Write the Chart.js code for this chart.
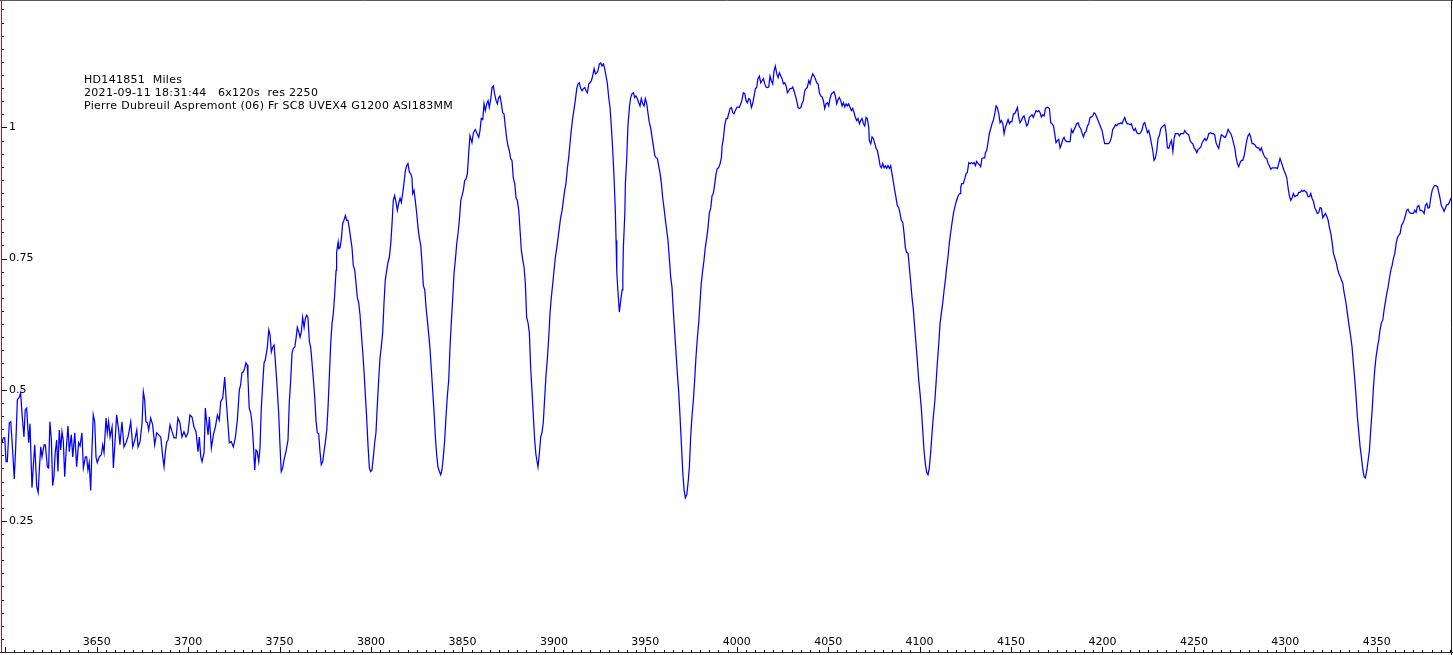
<!DOCTYPE html>
<html>
<head>
<meta charset="utf-8">
<title>HD141851 Miles</title>
<script src="https://cdn.jsdelivr.net/npm/chart.js@4.4.1/dist/chart.umd.min.js"></script>
<style>
  html, body { margin: 0; padding: 0; background: #fff; overflow: hidden; }
  #wrap { position: relative; width: 1453px; height: 655px; }
  #wrap canvas { display: block; }
</style>
</head>
<body>
<div id="wrap"><canvas id="spectrum"></canvas></div>
<script>
// ------------------------------------------------------
// spectrum data (wavelength in Angstrom, relative flux)
// ------------------------------------------------------
const wavelength = [
  3598.2, 3598.9, 3599.7, 3600.4, 3601.1, 3602.2, 3603.0, 3604.0, 3604.9, 3605.7,
  3606.6, 3607.7, 3608.4, 3609.1, 3610.2, 3610.9, 3611.7, 3612.8, 3613.5, 3614.6,
  3615.3, 3616.1, 3617.2, 3618.0, 3618.6, 3619.4, 3620.1, 3621.2, 3621.9, 3623.0,
  3623.7, 3624.4, 3625.2, 3625.9, 3626.6, 3627.3, 3628.1, 3628.8, 3629.5, 3630.3,
  3631.0, 3631.7, 3632.5, 3633.2, 3634.3, 3635.0, 3636.1, 3636.9, 3638.0, 3639.0,
  3640.1, 3640.9, 3641.9, 3642.7, 3643.8, 3644.5, 3645.2, 3645.9, 3646.7, 3647.4,
  3648.1, 3648.9, 3649.6, 3650.3, 3651.4, 3652.5, 3653.3, 3654.0, 3655.1, 3655.8,
  3656.5, 3657.3, 3658.4, 3659.1, 3659.8, 3660.9, 3662.0, 3662.7, 3663.8, 3664.9,
  3666.0, 3667.1, 3667.8, 3668.6, 3669.7, 3670.8, 3671.9, 3672.6, 3673.7, 3674.8,
  3675.5, 3676.2, 3676.9, 3677.7, 3678.4, 3679.5, 3680.6, 3681.7, 3682.8, 3683.9,
  3685.0, 3686.1, 3686.8, 3687.5, 3688.3, 3689.0, 3690.1, 3691.2, 3692.3, 3693.4,
  3694.4, 3695.5, 3696.6, 3697.7, 3698.8, 3699.9, 3701.0, 3702.1, 3703.2, 3704.3,
  3705.4, 3706.1, 3706.9, 3707.6, 3708.7, 3709.4, 3710.1, 3710.9, 3711.6, 3712.7,
  3713.8, 3714.9, 3716.0, 3717.0, 3717.8, 3718.9, 3720.0, 3720.7, 3721.4, 3722.5,
  3723.6, 3724.7, 3725.8, 3726.9, 3728.0, 3728.7, 3729.4, 3730.2, 3730.9, 3731.6,
  3732.3, 3732.7, 3733.4, 3734.2, 3734.9, 3735.6, 3736.4, 3737.1, 3737.8, 3738.6,
  3739.3, 3740.0, 3740.8, 3741.5, 3742.2, 3743.3, 3744.1, 3744.8, 3745.5, 3746.2,
  3747.0, 3747.7, 3748.4, 3749.5, 3750.2, 3750.9, 3751.7, 3752.4, 3753.5, 3754.6,
  3755.3, 3756.1, 3756.8, 3757.5, 3758.3, 3759.0, 3759.7, 3760.5, 3761.2, 3761.9,
  3762.6, 3763.4, 3764.1, 3764.8, 3765.5, 3766.3, 3767.0, 3767.7, 3768.5, 3769.2,
  3769.9, 3770.6, 3771.4, 3772.1, 3772.8, 3773.6, 3774.3, 3775.0, 3775.8, 3776.5,
  3777.2, 3778.0, 3778.7, 3779.4, 3780.1, 3780.9, 3781.2, 3782.0, 3782.3, 3783.1,
  3783.8, 3784.5, 3785.2, 3786.0, 3786.7, 3787.4, 3788.1, 3788.9, 3789.6, 3790.3,
  3791.1, 3791.8, 3792.5, 3793.3, 3794.0, 3794.7, 3795.5, 3796.2, 3796.9, 3797.6,
  3798.4, 3799.1, 3799.8, 3800.5, 3801.3, 3802.0, 3802.7, 3803.4, 3804.2, 3804.9,
  3805.6, 3806.4, 3807.1, 3807.8, 3808.6, 3809.3, 3810.0, 3810.8, 3811.5, 3812.2,
  3812.9, 3813.7, 3814.4, 3815.1, 3815.9, 3816.6, 3817.3, 3818.0, 3818.8, 3819.5,
  3820.2, 3821.0, 3821.7, 3822.4, 3822.8, 3823.5, 3824.2, 3825.0, 3825.7, 3826.4,
  3827.2, 3827.9, 3828.6, 3829.4, 3830.1, 3830.8, 3831.6, 3832.3, 3833.0, 3833.7,
  3834.5, 3835.2, 3835.9, 3836.6, 3837.4, 3838.1, 3838.8, 3839.5, 3840.3, 3841.0,
  3841.7, 3842.5, 3843.2, 3843.9, 3844.7, 3845.4, 3846.1, 3846.9, 3847.6, 3848.3,
  3849.1, 3849.8, 3850.5, 3851.2, 3852.0, 3852.7, 3853.4, 3854.1, 3855.2, 3856.0,
  3857.0, 3857.8, 3858.9, 3859.6, 3860.3, 3861.1, 3861.8, 3862.5, 3863.3, 3864.0,
  3864.7, 3865.5, 3866.2, 3866.9, 3867.6, 3868.4, 3869.1, 3869.8, 3870.5, 3871.3,
  3872.0, 3872.7, 3873.5, 3874.2, 3874.9, 3875.6, 3876.4, 3877.1, 3877.8, 3878.6,
  3879.3, 3880.0, 3880.8, 3881.5, 3882.2, 3883.0, 3883.7, 3884.4, 3885.1, 3885.9,
  3886.6, 3887.3, 3888.1, 3888.8, 3889.5, 3890.2, 3891.3, 3892.0, 3892.8, 3893.5,
  3894.2, 3895.0, 3895.7, 3896.4, 3897.2, 3897.9, 3898.6, 3899.4, 3900.1, 3900.8,
  3901.6, 3902.3, 3903.0, 3903.7, 3904.5, 3905.2, 3905.9, 3906.6, 3907.4, 3908.1,
  3908.8, 3909.5, 3910.3, 3911.0, 3911.7, 3912.5, 3913.2, 3913.9, 3914.7, 3915.4,
  3916.1, 3916.9, 3917.6, 3918.3, 3919.1, 3919.8, 3920.5, 3921.2, 3922.0, 3922.7,
  3923.4, 3924.1, 3924.9, 3925.6, 3926.3, 3927.1, 3927.8, 3928.5, 3929.2, 3930.0,
  3930.7, 3931.4, 3932.2, 3932.9, 3933.6, 3934.0, 3934.4, 3935.1, 3935.8, 3936.6,
  3937.3, 3937.7, 3938.0, 3938.8, 3939.1, 3939.8, 3940.5, 3941.3, 3942.0, 3942.7,
  3943.5, 3944.2, 3944.9, 3945.6, 3946.4, 3947.1, 3947.8, 3948.6, 3949.3, 3950.0,
  3950.8, 3951.5, 3952.2, 3953.0, 3953.7, 3954.4, 3955.2, 3955.9, 3956.6, 3957.3,
  3958.1, 3958.8, 3959.5, 3960.2, 3961.0, 3961.7, 3962.4, 3963.1, 3963.9, 3964.6,
  3965.3, 3966.1, 3966.8, 3967.5, 3968.3, 3969.0, 3969.7, 3970.5, 3971.2, 3971.9,
  3972.7, 3973.4, 3974.1, 3974.8, 3975.5, 3976.3, 3977.0, 3977.7, 3978.5, 3979.2,
  3979.9, 3980.6, 3981.4, 3982.1, 3982.8, 3983.6, 3984.3, 3985.0, 3985.8, 3986.5,
  3987.2, 3988.0, 3988.7, 3989.4, 3990.1, 3990.9, 3991.6, 3992.0, 3992.7, 3993.4,
  3994.2, 3994.9, 3995.6, 3996.3, 3997.1, 3997.8, 3998.5, 3999.2, 4000.0, 4000.7,
  4001.4, 4002.2, 4002.9, 4003.6, 4004.4, 4005.1, 4005.8, 4006.6, 4007.3, 4008.0,
  4008.7, 4009.5, 4010.2, 4010.9, 4011.6, 4012.4, 4013.1, 4013.8, 4014.6, 4015.3,
  4016.0, 4016.7, 4017.5, 4018.2, 4018.9, 4019.7, 4020.4, 4021.1, 4021.9, 4022.6,
  4023.3, 4024.1, 4024.8, 4025.5, 4026.2, 4027.0, 4027.7, 4028.4, 4029.1, 4029.9,
  4030.6, 4031.3, 4032.1, 4032.8, 4033.5, 4034.2, 4035.0, 4035.7, 4036.4, 4037.2,
  4037.9, 4038.6, 4039.4, 4040.1, 4040.8, 4041.6, 4042.3, 4043.0, 4043.7, 4044.5,
  4045.2, 4045.9, 4046.7, 4047.4, 4048.1, 4048.8, 4049.6, 4050.3, 4051.0, 4051.8,
  4052.5, 4053.2, 4053.9, 4054.7, 4055.4, 4056.1, 4056.9, 4057.6, 4058.3, 4059.1,
  4059.8, 4060.5, 4061.2, 4062.0, 4062.7, 4063.4, 4064.2, 4064.9, 4065.6, 4066.3,
  4067.1, 4067.8, 4068.5, 4069.3, 4070.0, 4070.7, 4071.4, 4072.2, 4072.5, 4073.3,
  4074.0, 4074.7, 4075.5, 4076.2, 4076.9, 4077.7, 4078.4, 4079.1, 4079.8, 4080.6,
  4081.3, 4082.0, 4082.7, 4083.5, 4084.2, 4084.9, 4085.7, 4086.4, 4087.1, 4087.8,
  4088.6, 4089.3, 4090.0, 4090.8, 4091.5, 4092.2, 4092.9, 4093.7, 4094.4, 4095.2,
  4095.9, 4096.6, 4097.3, 4098.0, 4098.8, 4099.5, 4100.2, 4101.0, 4101.7, 4102.4,
  4103.2, 4103.9, 4104.6, 4105.3, 4106.1, 4106.8, 4107.5, 4108.3, 4109.0, 4109.7,
  4110.5, 4111.2, 4111.9, 4112.7, 4113.4, 4114.1, 4114.8, 4115.5, 4116.3, 4117.0,
  4117.7, 4118.5, 4119.2, 4119.9, 4120.7, 4121.4, 4122.1, 4122.5, 4123.0, 4123.9,
  4124.7, 4125.4, 4126.1, 4126.9, 4127.6, 4128.3, 4129.1, 4129.8, 4130.5, 4131.2,
  4132.0, 4132.7, 4133.4, 4134.1, 4134.9, 4135.6, 4136.0, 4136.7, 4137.4, 4138.1,
  4138.9, 4139.6, 4140.3, 4141.1, 4141.8, 4142.5, 4143.3, 4144.0, 4144.7, 4145.5,
  4146.2, 4146.9, 4147.6, 4148.4, 4149.1, 4149.8, 4150.5, 4151.3, 4152.0, 4152.8,
  4153.5, 4154.2, 4154.9, 4155.6, 4156.4, 4157.1, 4157.8, 4158.6, 4159.3, 4160.0,
  4160.8, 4161.5, 4162.2, 4163.0, 4163.7, 4164.4, 4165.2, 4165.9, 4166.6, 4167.3,
  4168.1, 4168.8, 4169.5, 4170.2, 4171.0, 4171.7, 4172.4, 4173.2, 4173.9, 4174.6,
  4175.4, 4176.1, 4176.8, 4177.5, 4178.3, 4179.0, 4179.7, 4180.5, 4181.6, 4182.3,
  4183.0, 4183.8, 4184.5, 4185.2, 4185.9, 4186.7, 4187.4, 4188.1, 4188.8, 4189.6,
  4190.3, 4191.0, 4191.8, 4192.5, 4193.2, 4194.0, 4194.7, 4195.4, 4196.1, 4196.9,
  4197.6, 4198.3, 4199.1, 4199.8, 4200.5, 4201.2, 4202.0, 4202.7, 4203.4, 4204.2,
  4204.9, 4205.6, 4206.4, 4207.1, 4207.8, 4208.5, 4209.3, 4210.0, 4210.7, 4211.4,
  4212.2, 4212.9, 4213.6, 4214.4, 4215.1, 4215.8, 4216.6, 4217.3, 4218.0, 4218.8,
  4219.5, 4220.2, 4220.9, 4221.7, 4222.4, 4223.1, 4223.8, 4224.6, 4225.3, 4226.0,
  4226.8, 4227.5, 4228.2, 4228.9, 4229.7, 4230.4, 4231.1, 4231.9, 4232.6, 4233.3,
  4234.1, 4234.8, 4235.5, 4236.3, 4237.0, 4237.7, 4238.5, 4239.2, 4239.9, 4240.6,
  4241.3, 4242.1, 4242.8, 4243.5, 4244.3, 4245.0, 4245.7, 4246.4, 4247.2, 4247.9,
  4248.6, 4249.4, 4250.1, 4250.8, 4251.6, 4252.3, 4253.0, 4253.8, 4254.5, 4255.2,
  4256.0, 4256.7, 4257.4, 4258.1, 4259.2, 4259.9, 4260.7, 4261.4, 4262.1, 4262.8,
  4263.6, 4264.3, 4265.0, 4265.8, 4266.5, 4267.2, 4268.0, 4268.7, 4269.4, 4270.2,
  4270.9, 4271.6, 4272.4, 4273.1, 4273.8, 4274.5, 4275.3, 4276.0, 4276.7, 4277.5,
  4278.2, 4278.9, 4279.6, 4280.4, 4281.1, 4281.8, 4282.5, 4283.3, 4284.0, 4284.7,
  4285.5, 4286.2, 4286.9, 4287.7, 4288.4, 4289.1, 4289.8, 4290.6, 4291.3, 4292.0,
  4292.8, 4293.5, 4294.2, 4294.9, 4295.7, 4296.4, 4297.1, 4297.9, 4298.6, 4299.3,
  4300.0, 4300.8, 4301.5, 4302.2, 4303.0, 4303.7, 4304.4, 4305.2, 4305.9, 4306.6,
  4307.3, 4308.1, 4308.8, 4309.5, 4310.3, 4311.0, 4311.7, 4312.4, 4313.2, 4313.9,
  4314.6, 4315.4, 4316.1, 4316.8, 4317.5, 4318.3, 4319.0, 4319.7, 4320.5, 4321.2,
  4321.9, 4322.7, 4323.4, 4324.1, 4324.9, 4325.6, 4326.3, 4327.0, 4327.8, 4328.5,
  4329.2, 4330.0, 4330.7, 4331.4, 4332.1, 4332.9, 4333.6, 4334.3, 4335.0, 4335.8,
  4336.5, 4337.2, 4338.0, 4338.7, 4339.4, 4340.2, 4340.9, 4341.6, 4342.4, 4343.1,
  4343.8, 4344.6, 4345.3, 4346.0, 4346.7, 4347.5, 4348.2, 4348.9, 4349.6, 4350.4,
  4351.1, 4351.8, 4352.5, 4353.3, 4354.0, 4354.7, 4355.5, 4356.2, 4356.9, 4357.7,
  4358.4, 4359.1, 4359.9, 4360.6, 4361.3, 4362.0, 4362.8, 4363.5, 4364.2, 4364.9,
  4365.7, 4366.4, 4367.1, 4367.8, 4368.6, 4369.3, 4370.0, 4370.8, 4371.5, 4372.2,
  4373.0, 4373.7, 4374.4, 4375.2, 4375.9, 4376.6, 4377.4, 4378.1, 4378.8, 4379.5,
  4380.3, 4381.0, 4381.7, 4382.4, 4383.2, 4383.9, 4384.6, 4385.3, 4386.1, 4386.8,
  4387.5, 4388.3, 4389.0, 4389.7, 4390.5
];

const flux = [
  .399, .408, .408, .363, .363, .437, .439, .385, .330, .391,
  .481, .486, .494, .456, .410, .462, .465, .399, .435, .313,
  .353, .395, .315, .304, .347, .391, .372, .395, .395, .353,
  .351, .439, .404, .317, .334, .380, .404, .344, .423, .385,
  .420, .404, .334, .380, .431, .382, .414, .372, .418, .353,
  .399, .393, .418, .351, .372, .372, .347, .361, .308, .385,
  .452, .439, .372, .361, .372, .376, .395, .380, .446, .418,
  .439, .410, .429, .351, .389, .452, .423, .395, .439, .391,
  .399, .410, .423, .439, .391, .404, .423, .391, .401, .437,
  .496, .481, .439, .437, .423, .446, .433, .395, .418, .414,
  .410, .372, .353, .380, .401, .404, .433, .420, .408, .408,
  .446, .437, .410, .420, .410, .418, .452, .448, .429, .420,
  .382, .410, .372, .363, .380, .465, .439, .414, .448, .389,
  .414, .429, .452, .442, .477, .484, .524, .486, .452, .399,
  .401, .391, .408, .442, .500, .509, .532, .534, .541, .551,
  .547, .522, .465, .456, .437, .401, .347, .385, .382, .363,
  .389, .465, .513, .551, .557, .581, .614, .604, .572, .581,
  .585, .553, .519, .456, .395, .344, .351, .366, .382, .404,
  .475, .519, .570, .579, .581, .598, .619, .610, .600, .610,
  .638, .619, .636, .642, .638, .591, .581, .553, .519, .486,
  .442, .418, .416, .382, .357, .363, .382, .399, .423, .467,
  .524, .591, .627, .646, .680, .728, .762, .781, .769, .771,
  .788, .817, .823, .832, .823, .823, .808, .788, .771, .737,
  .728, .703, .676, .665, .642, .608, .570, .534, .490, .448,
  .391, .351, .344, .347, .372, .399, .418, .467, .519, .560,
  .581, .610, .665, .709, .728, .743, .752, .779, .817, .861,
  .870, .857, .842, .855, .865, .857, .874, .893, .918, .927,
  .931, .914, .912, .904, .874, .880, .861, .836, .809, .790,
  .775, .741, .699, .690, .657, .633, .604, .576, .538, .500,
  .456, .410, .376, .353, .344, .338, .347, .370, .404, .448,
  .486, .519, .581, .627, .676, .722, .747, .779, .798, .823,
  .861, .870, .880, .899, .902, .912, .950, .984, .971, .990,
  .996, .990, .981, .994, 1.017, 1.015, 1.045, 1.032, 1.045, 1.051,
  1.038, 1.055, 1.076, 1.079, 1.064, 1.051, 1.045, 1.057, 1.060, 1.045,
  1.028, 1.026, 1.000, .979, .965, .956, .940, .937, .904, .893,
  .866, .861, .842, .804, .766, .747, .733, .703, .638, .627,
  .608, .543, .494, .448, .404, .376, .353, .376, .410, .418,
  .437, .486, .528, .557, .600, .646, .676, .703, .728, .752,
  .771, .790, .809, .828, .842, .861, .880, .893, .923, .942,
  .969, .994, 1.018, 1.034, 1.051, 1.074, 1.083, 1.085, 1.074, 1.070,
  1.074, 1.076, 1.070, 1.066, 1.083, 1.085, 1.089, 1.098, 1.112, 1.102,
  1.104, 1.108, 1.121, 1.123, 1.117, 1.121, 1.112, 1.098, 1.085, 1.057,
  1.038, 1.003, .956, .904, .842, .785, .724, .684, .648, .671,
  .690, .718, .771, .836, .893, .937, 1.003, 1.038, 1.057, 1.064,
  1.066, 1.057, 1.060, 1.055, 1.047, 1.041, 1.055, 1.045, 1.041, 1.055,
  1.045, 1.026, 1.009, .998, .981, .965, .946, .942, .941, .927,
  .912, .893, .866, .847, .823, .804, .785, .752, .714, .695,
  .652, .608, .570, .532, .494, .448, .399, .342, .309, .294,
  .300, .323, .353, .410, .448, .481, .519, .562, .600, .627,
  .665, .703, .728, .747, .771, .790, .809, .836, .847, .870,
  .874, .893, .912, .922, .923, .931, .942, .965, .979, 1.003,
  1.017, 1.017, 1.026, 1.036, 1.038, 1.028, 1.026, 1.032, 1.038, 1.039,
  1.038, 1.045, 1.053, 1.066, 1.064, 1.051, 1.047, 1.055, 1.053, 1.038,
  1.045, 1.060, 1.074, 1.076, 1.093, 1.098, 1.085, 1.089, 1.093, 1.083,
  1.077, 1.076, 1.077, 1.098, 1.089, 1.083, 1.108, 1.117, 1.102, 1.095,
  1.104, 1.098, 1.093, 1.083, 1.085, 1.079, 1.066, 1.070, 1.074, 1.074,
  1.077, 1.070, 1.060, 1.051, 1.038, 1.036, 1.038, 1.045, 1.051, 1.070,
  1.074, 1.076, 1.089, 1.083, 1.095, 1.102, 1.098, 1.093, 1.085, 1.083,
  1.066, 1.060, 1.058, 1.051, 1.036, 1.045, 1.047, 1.041, 1.055, 1.064,
  1.066, 1.068, 1.060, 1.045, 1.053, 1.057, 1.051, 1.041, 1.047, 1.039,
  1.045, 1.041, 1.045, 1.038, 1.032, 1.036, 1.028, 1.019, 1.013, 1.017,
  1.007, 1.013, 1.017, 1.007, 1.003, 1.019, 1.017, 1.000, .975, .969,
  .982, .979, .969, .960, .956, .942, .927, .923, .931, .923,
  .927, .922, .927, .922, .927, .912, .895, .880, .866, .851,
  .847, .836, .823, .819, .798, .771, .762, .760, .733, .703,
  .674, .652, .619, .589, .553, .519, .494, .462, .423, .385,
  .357, .342, .338, .351, .382, .418, .448, .477, .513, .551,
  .589, .627, .646, .667, .690, .709, .733, .752, .781, .800,
  .817, .836, .847, .857, .866, .872, .874, .886, .893, .893,
  .902, .912, .914, .933, .931, .933, .931, .933, .927, .935,
  .931, .929, .925, .941, .942, .942, .952, .956, .971, .988,
  .998, 1.007, 1.013, 1.026, 1.041, 1.038, 1.026, 1.009, 1.013, 1.007,
  .988, 1.000, 1.007, 1.015, 1.007, 1.011, 1.011, 1.026, 1.026, 1.032,
  1.038, 1.019, 1.009, 1.013, 1.019, 1.022, 1.013, 1.003, 1.007, 1.019,
  1.022, 1.024, 1.019, 1.026, 1.032, 1.030, 1.032, 1.028, 1.020, 1.024,
  1.022, 1.036, 1.038, 1.038, 1.036, 1.009, 1.007, 1.003, .988, .971,
  .975, .977, .961, .967, .977, .981, .975, .973, .973, .973,
  .996, .990, .996, 1.001, 1.007, 1.009, 1.001, .998, .990, .982,
  .990, .992, 1.003, 1.007, 1.019, 1.020, 1.022, 1.028, 1.026, 1.019,
  1.013, 1.007, 1.000, .994, .981, .969, .969, .969, .969, .973,
  .981, .996, 1.000, 1.005, 1.003, 1.007, 1.007, 1.009, 1.007, 1.013,
  1.019, 1.011, 1.007, 1.007, 1.005, 1.007, .998, .994, .998, .990,
  .988, .988, .990, .996, 1.007, 1.009, 1.000, .990, .994, .984,
  .969, .956, .937, .941, .956, .979, .984, .998, 1.001, 1.003,
  1.005, .990, .961, .960, .969, .975, .954, .979, .988, .988,
  .988, .984, .988, .988, .988, .994, .990, .988, .986, .975,
  .971, .969, .961, .958, .952, .958, .960, .963, .971, .975,
  .979, .975, .979, .988, .990, .988, .988, .986, .971, .965,
  .960, .975, .986, .984, .982, .981, .988, .996, .992, .988,
  .981, .971, .960, .942, .931, .925, .933, .937, .937, .946,
  .960, .975, .984, .988, .981, .969, .969, .967, .963, .961,
  .961, .956, .961, .952, .946, .942, .941, .931, .927, .920,
  .923, .923, .923, .923, .922, .931, .941, .933, .925, .918,
  .912, .904, .885, .870, .861, .866, .874, .868, .870, .870,
  .876, .876, .880, .878, .880, .878, .876, .868, .868, .874,
  .865, .859, .847, .842, .836, .838, .847, .846, .828, .832,
  .836, .830, .823, .809, .798, .781, .760, .752, .743, .731,
  .722, .716, .709, .703, .686, .671, .655, .636, .619, .600,
  .581, .551, .519, .486, .448, .418, .391, .372, .347, .334,
  .332, .347, .366, .385, .423, .462, .505, .538, .562, .581,
  .595, .614, .627, .633, .652, .667, .684, .695, .712, .728,
  .737, .750, .760, .779, .790, .794, .798, .813, .817, .823,
  .832, .842, .844, .838, .836, .836, .836, .842, .838, .849,
  .851, .842, .842, .840, .836, .851, .855, .846, .847, .865,
  .880, .886, .889, .889, .887, .876, .865, .851, .846, .840,
  .846, .853, .853, .857, .865
];

// axis ticks and header text
const xTickLabels = [3650, 3700, 3750, 3800, 3850, 3900, 3950, 4000, 4050, 4100, 4150, 4200, 4250, 4300, 4350];
const yTickValues = [0.25, 0.5, 0.75, 1];
const yTickLabels = ['0.25', '0.5', '0.75', '1'];
const headerLines = [
  'HD141851  Miles',
  '2021-09-11 18:31:44   6x120s  res 2250',
  'Pierre Dubreuil Aspremont (06) Fr SC8 UVEX4 G1200 ASI183MM'
];

const FONT = '"DejaVu Sans", Verdana, sans-serif';

// frame, inward tick marks (major + minor) and the header block
const framePlugin = {
  id: 'framePlugin',
  afterDraw(chart) {
    const { ctx, chartArea: a, scales: { x, y } } = chart;
    ctx.save();
    ctx.lineWidth = 1;

    // minor / major ticks on the x axis, pointing up
    ctx.strokeStyle = '#000';
    ctx.beginPath();
    for (let v = 3600; v <= x.max; v += 5) {
      const px = Math.round(x.getPixelForValue(v)) + 0.5;
      const len = v % 50 === 0 ? 5 : 2;
      ctx.moveTo(px, a.bottom);
      ctx.lineTo(px, a.bottom - len);
    }
    // minor / major ticks on the y axis, pointing right
    for (let i = 1; i * 0.025 < y.max; i++) {
      const py = Math.round(y.getPixelForValue(i * 0.025)) + 0.5;
      const len = i % 10 === 0 ? 5 : 2;
      ctx.moveTo(a.left, py);
      ctx.lineTo(a.left + len, py);
    }
    ctx.stroke();

    // frame
    ctx.strokeStyle = '#5a5a5a';
    ctx.beginPath(); ctx.moveTo(0, 0.5); ctx.lineTo(chart.width, 0.5); ctx.stroke();
    ctx.strokeStyle = '#1e1e1e';
    ctx.beginPath(); ctx.moveTo(a.right + 0.5, 0); ctx.lineTo(a.right + 0.5, chart.height); ctx.stroke();
    ctx.strokeStyle = '#2a2a2a';
    ctx.beginPath(); ctx.moveTo(0, a.bottom + 0.5); ctx.lineTo(chart.width, a.bottom + 0.5); ctx.stroke();
    ctx.strokeStyle = '#a02020';
    ctx.beginPath(); ctx.moveTo(a.left - 0.5, 0); ctx.lineTo(a.left - 0.5, a.bottom); ctx.stroke();

    // header text
    ctx.fillStyle = '#000';
    ctx.font = '11px ' + FONT;
    ctx.letterSpacing = '0.3px';
    ctx.textBaseline = 'middle';
    ctx.textAlign = 'left';
    headerLines.forEach((t, i) => ctx.fillText(t, 84, 80 + i * 13));
    ctx.restore();
  }
};

// labels are mirrored inside the plot, so drop the edge padding Chart.js reserves for them
const noEdgePadding = (s) => {
  s.paddingTop = 0; s.paddingBottom = 0; s.paddingLeft = 0; s.paddingRight = 0;
};

window.onload = () => {
  const ctx = document.getElementById('spectrum');
  new Chart(ctx, {
    type: 'line',
    data: {
      datasets: [{
        data: wavelength.map((w, i) => ({ x: w, y: flux[i] })),
        borderColor: '#0000ff',
        borderWidth: 1.25,
        pointRadius: 0,
        tension: 0,
        fill: false
      }]
    },
    options: {
      responsive: true,
      maintainAspectRatio: false,
      animation: false,
      events: [],
      layout: { padding: { left: 0, right: 2, top: 1, bottom: 0 } },
      plugins: {
        legend: { display: false },
        tooltip: { enabled: false },
        title: { display: false }
      },
      scales: {
        x: {
          type: 'linear',
          min: 3598.2,
          max: 4390.6,
          grid: { display: false },
          border: { display: false },
          afterBuildTicks: (s) => { s.ticks = xTickLabels.map(v => ({ value: v })); },
          afterFit: (s) => { s.height = 3; noEdgePadding(s); },
          ticks: {
            mirror: true,
            padding: 3,
            autoSkip: false,
            maxRotation: 0,
            color: '#000',
            font: { family: FONT, size: 11 },
            callback: (v) => String(v)
          }
        },
        y: {
          type: 'linear',
          min: 0,
          max: 1.241,
          grid: { display: false },
          border: { display: false },
          afterBuildTicks: (s) => { s.ticks = yTickValues.map(v => ({ value: v })); },
          afterFit: (s) => { s.width = 2; noEdgePadding(s); },
          ticks: {
            mirror: true,
            padding: 7,
            autoSkip: false,
            color: '#000',
            font: { family: FONT, size: 11 },
            callback: (v, i) => yTickLabels[i]
          }
        }
      }
    },
    plugins: [framePlugin]
  });
};
</script>
</body>
</html>
